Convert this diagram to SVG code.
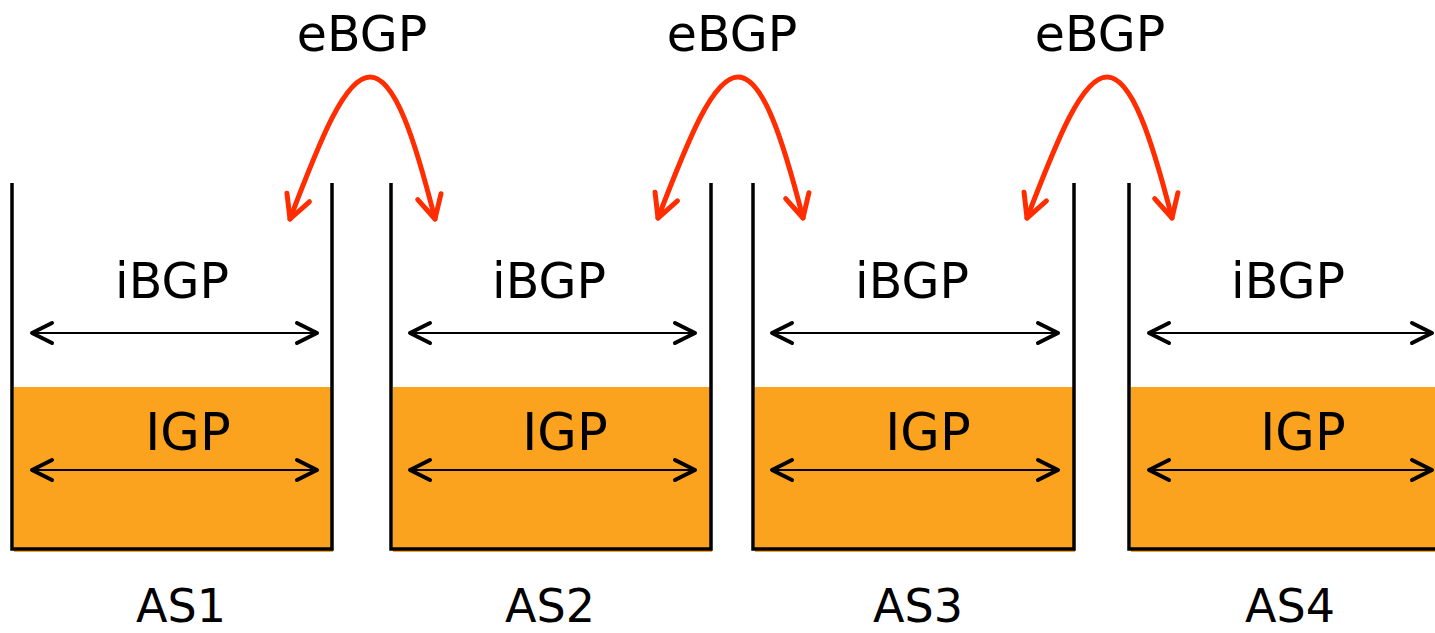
<svg xmlns="http://www.w3.org/2000/svg" width="1435" height="633" viewBox="0 0 1435 633">
<style>
text{font-family:"DejaVu Sans","Verdana",sans-serif;fill:#000;text-anchor:middle}
.lbl{font-size:49px}
.igp{font-size:51px}
.as{font-size:46px}
.fill{fill:#FBA21F}
.wall{fill:none;stroke:#000;stroke-width:3.5;stroke-linejoin:miter}
.dbl{fill:none;stroke:#000;stroke-width:2.2;marker-start:url(#bk);marker-end:url(#bk)}
.ebgp{fill:none;stroke:#FF2D00;stroke-width:5;stroke-linecap:round;marker-start:url(#rd);marker-end:url(#rd)}
</style>
<defs>
<marker id="bk" markerUnits="userSpaceOnUse" viewBox="-30 -15 34 30" markerWidth="34" markerHeight="30" refX="0" refY="0" orient="auto-start-reverse" overflow="visible">
<path d="M-20,-10 L0,0 L-20,10" fill="none" stroke="#000" stroke-width="4" stroke-linecap="round" stroke-linejoin="round"/>
</marker>
<marker id="rd" markerUnits="userSpaceOnUse" viewBox="-30 -15 34 30" markerWidth="34" markerHeight="30" refX="0" refY="0" orient="auto-start-reverse" overflow="visible">
<path d="M-23,-12 L0,0 L-23,12" fill="none" stroke="#FF2D00" stroke-width="5" stroke-linecap="round" stroke-linejoin="round"/>
</marker>
</defs>
<g id="as1">
<rect class="fill" x="14" y="387" width="319" height="165"/>
<path class="wall" d="M12,183 V549 H332 V183"/>
<text class="lbl" x="172" y="298">iBGP</text>
<text class="igp" x="188" y="450">IGP</text>
<text class="as" x="181" y="622">AS1</text>
</g>
<g id="as2">
<rect class="fill" x="393" y="387" width="319" height="165"/>
<path class="wall" d="M391,183 V549 H711 V183"/>
<text class="lbl" x="549" y="298">iBGP</text>
<text class="igp" x="565" y="450">IGP</text>
<text class="as" x="550" y="622">AS2</text>
</g>
<g id="as3">
<rect class="fill" x="755" y="387" width="320" height="165"/>
<path class="wall" d="M753,183 V549 H1074 V183"/>
<text class="lbl" x="912" y="298">iBGP</text>
<text class="igp" x="928" y="450">IGP</text>
<text class="as" x="918" y="622">AS3</text>
</g>
<g id="as4">
<rect class="fill" x="1131" y="387" width="320" height="165"/>
<path class="wall" d="M1129,183 V549 H1450"/>
<text class="lbl" x="1288" y="298">iBGP</text>
<text class="igp" x="1303" y="450">IGP</text>
<text class="as" x="1290" y="622">AS4</text>
</g>
<g id="ebgp-labels">
<text class="lbl" x="362" y="51">eBGP</text>
<text class="lbl" x="732" y="51">eBGP</text>
<text class="lbl" x="1100" y="51">eBGP</text>
</g>
<g id="connectors">
<path class="dbl" d="M32,333 H317"/>
<path class="dbl" d="M32,470 H317"/>
<path class="dbl" d="M410,333 H695"/>
<path class="dbl" d="M410,470 H695"/>
<path class="dbl" d="M772,333 H1058"/>
<path class="dbl" d="M772,470 H1058"/>
<path class="dbl" d="M1149,333 H1432"/>
<path class="dbl" d="M1149,470 H1432"/>
<path class="ebgp" d="M290,219 C320,140 345,77 370,77 C395,77 415,140 435,219"/>
<path class="ebgp" d="M658,218 C688,140 713,77 738,77 C763,77 783,140 803,218"/>
<path class="ebgp" d="M1027,218 C1057,140 1082,77 1107,77 C1132,77 1152,140 1172,218"/>
</g>
</svg>
